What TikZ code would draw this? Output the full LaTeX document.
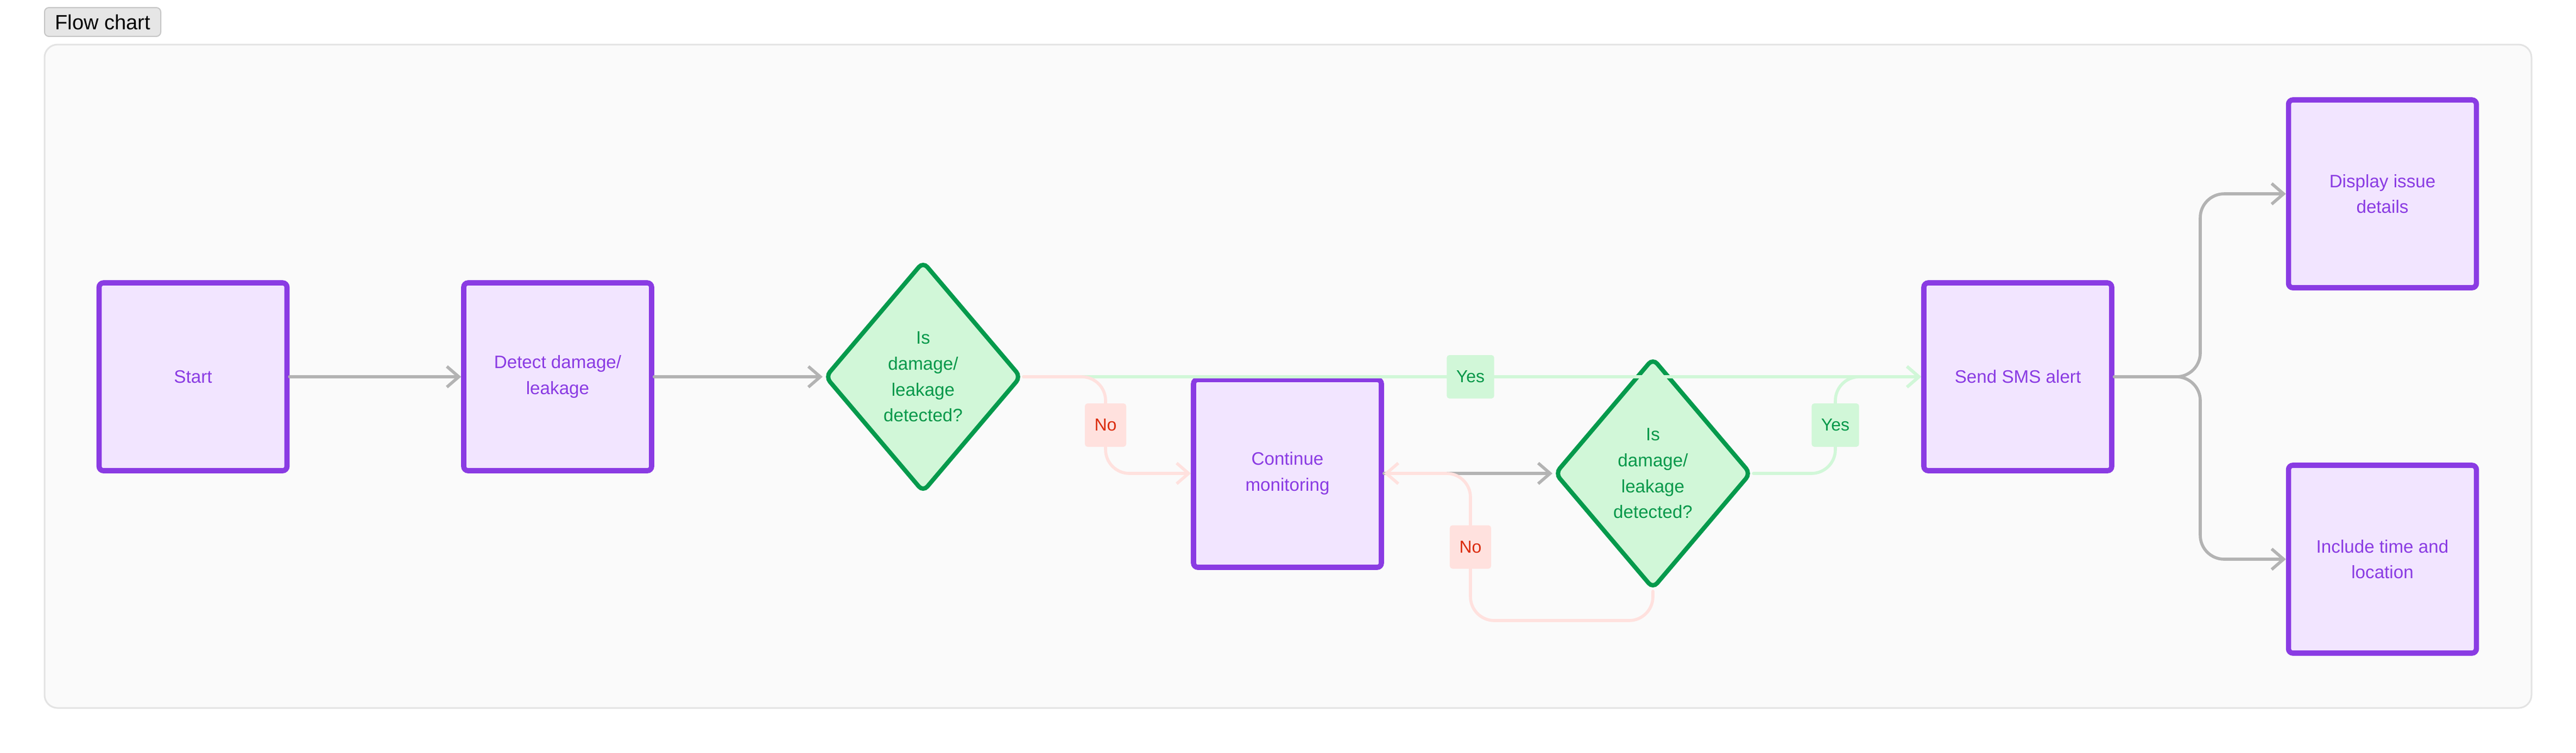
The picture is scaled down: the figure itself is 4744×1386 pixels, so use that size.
\documentclass[tikz,border=0pt]{standalone}
\usepackage{fontspec}
\setmainfont{Liberation Sans}
\usetikzlibrary{arrows, arrows.meta}
\usetikzlibrary{shapes}
\definecolor{boxline}{HTML}{8A3BE3}
\definecolor{boxfill}{HTML}{F2E5FF}
\definecolor{decline}{HTML}{059A4C}
\definecolor{decfill}{HTML}{D1F7D8}
\definecolor{dectext}{HTML}{07984A}
\definecolor{nofill}{HTML}{FFE1DE}
\definecolor{notext}{HTML}{DB2C0E}
\definecolor{edgegray}{HTML}{B3B3B3}
\definecolor{panelfill}{HTML}{FAFAFA}
\definecolor{panelline}{HTML}{E3E3E3}
\definecolor{tagfill}{HTML}{E6E6E6}
\definecolor{tagline}{HTML}{C6C6C6}
\tikzset{
  procbox/.style={draw=boxline, fill=boxfill, text=boxline, line width=2.4pt, rounded corners=2pt,
    minimum width=86.5pt, minimum height=86.5pt, inner sep=0pt, align=center,
    font=\fontsize{8.3}{11.9}\selectfont},
  decision/.style={diamond, draw=decline, fill=decfill, text=dectext, line width=2pt, rounded corners=3pt,
    minimum width=90.5pt, minimum height=106.5pt, inner sep=0pt, align=center,
    font=\fontsize{8.3}{11.9}\selectfont},
  grayarrow/.style={draw=edgegray, line width=1.4pt, rounded corners=11pt, line cap=round,
    -{Straight Barb[length=5.5pt,width=9.5pt]}},
  yesarrow/.style={grayarrow, draw=decfill},
  noarrow/.style={grayarrow, draw=nofill},
  yestag/.style={fill=decfill, text=dectext, rounded corners=1.25pt, inner xsep=4.4pt, inner ysep=0pt,
    minimum height=20pt, font=\fontsize{8}{10}\selectfont},
  notag/.style={yestag, fill=nofill, text=notext}
}
\begin{document}
\begin{tikzpicture}[x=0.25pt,y=-0.25pt]
  \useasboundingbox (0,0) rectangle (4744,1386);
  \fill[white] (0,0) rectangle (4744,1386);
  \draw[fill=panelfill, draw=panelline, line width=0.75pt, rounded corners=6pt] (82,82) rectangle (4662,1304);
  \node[draw=tagline, fill=tagfill, rounded corners=2pt, line width=0.5pt, minimum width=53.5pt, minimum height=13.25pt,
    inner sep=0pt, font=\fontsize{9.5}{11}\selectfont] (title) at (189,40.5) {Flow chart};

  % steps
  \node[procbox] (start) at (355.5,694) {Start};
  \node[procbox] (detect) at (1027,694) {Detect damage/\\leakage};
  \node[decision] (check1) at (1700,694) {Is\\damage/\\leakage\\detected?};
  \node[procbox] (monitor) at (2371,872) {Continue\\monitoring};
  \node[decision] (check2) at (3044,872) {Is\\damage/\\leakage\\detected?};
  \node[procbox] (sms) at (3716,694) {Send SMS alert};
  \node[procbox] (display) at (4387.5,357) {Display issue\\details};
  \node[procbox] (include) at (4387.5,1030) {Include time and\\location};

  % links
  \draw[grayarrow] (start) -- (detect);
  \draw[grayarrow] (detect) -- (check1);
  \draw[grayarrow] (monitor) -- (check2);
  \draw[grayarrow] (sms.east) -- (4052,694) |- (display.west);
  \draw[grayarrow] (sms.east) -- (4052,694) |- (include.west);
  \draw[yesarrow] (check1.east) -- (sms.west);
  \draw[yesarrow] (check2.east) -- (3380,872) |- (sms.west);
  \draw[noarrow] (check1.east) -- (2036,694) |- (monitor.west);
  \draw[noarrow] (check2.south) |- (2708,1143) |- (monitor.east);

  % labels
  \node[yestag] (yes1) at (2708,694) {Yes};
  \node[notag] (no1) at (2036,783) {No};
  \node[notag] (no2) at (2708,1007.5) {No};
  \node[yestag] (yes2) at (3380,783) {Yes};
\end{tikzpicture}
\end{document}
